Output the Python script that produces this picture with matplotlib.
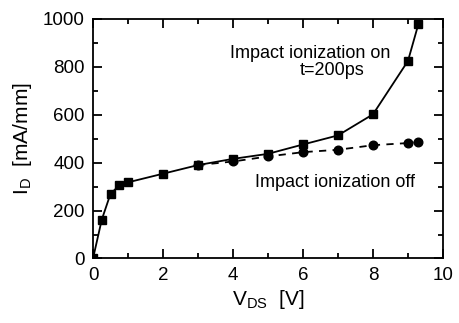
import matplotlib
matplotlib.use("Agg")
import matplotlib.pyplot as plt
from matplotlib.ticker import MultipleLocator

plt.rcParams['font.family'] = ['Liberation Sans', 'DejaVu Sans']

on_x = [0, 0.25, 0.5, 0.75, 1, 2, 3, 4, 5, 6, 7, 8, 9, 9.3]
on_y = [0, 162, 270, 305, 318, 354, 390, 416, 437, 476, 514, 602, 825, 980]
off_x = [3, 4, 5, 6, 7, 8, 9, 9.3]
off_y = [390, 405, 426, 444, 454, 473, 482, 486]

x_ticks = [0, 2, 4, 6, 8, 10]
y_ticks = [0, 200, 400, 600, 800, 1000]

fig = plt.figure(figsize=(4.6, 3.23), dpi=100)
ax = fig.add_axes([0.2022, 0.1997, 0.7608, 0.7415])

ax.plot(off_x, off_y, color='black', linestyle=(0, (4, 3.5)), linewidth=1.3,
        marker='o', markersize=6.2, zorder=2)
ax.plot(on_x, on_y, color='black', linestyle='-', linewidth=1.3,
        marker='s', markersize=5.8, zorder=3)

ax.set_xlim(0, 10)
ax.set_ylim(0, 1000)
ax.set_xticks(x_ticks)
ax.set_yticks(y_ticks)
ax.xaxis.set_minor_locator(MultipleLocator(1))
ax.yaxis.set_minor_locator(MultipleLocator(100))
ax.tick_params(which='both', direction='in', top=True, right=True, width=1.3,
               labelsize=13.5, pad=6)
ax.tick_params(which='major', length=6.5)
ax.tick_params(which='minor', length=3.5)
for s in ax.spines.values():
    s.set_linewidth(1.3)

ax.set_xlabel(r'V$_{\mathregular{DS}}$  [V]', fontsize=15, labelpad=3)
ax.set_ylabel(r'I$_{\mathregular{D}}$  [mA/mm]', fontsize=15, labelpad=6)

ax.text(3.91, 837, 'Impact ionization on', fontsize=13, va='baseline', ha='left')
ax.text(6.83, 766, 't=200ps', fontsize=13, va='baseline', ha='center')
ax.text(4.63, 298, 'Impact ionization off', fontsize=13, va='baseline', ha='left')

fig.savefig('out.png', dpi=100)
